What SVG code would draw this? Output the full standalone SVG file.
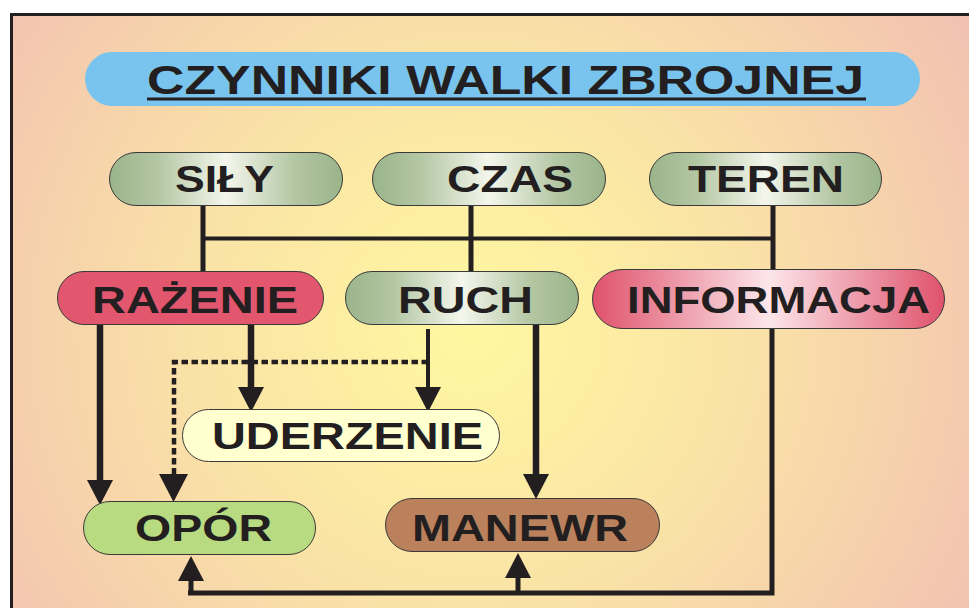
<svg xmlns="http://www.w3.org/2000/svg" width="969" height="608" viewBox="0 0 969 608">
<defs>
<radialGradient id="bg" gradientUnits="userSpaceOnUse" cx="470" cy="330" r="600">
<stop offset="0" stop-color="#fff8a0"/>
<stop offset="0.45" stop-color="#fae3a6"/>
<stop offset="1" stop-color="#f2c0b2"/>
</radialGradient>
<linearGradient id="green" x1="0" y1="0" x2="1" y2="0">
<stop offset="0" stop-color="#9bb48a"/>
<stop offset="0.2" stop-color="#b2c6a2"/>
<stop offset="0.5" stop-color="#f4f6ec"/>
<stop offset="0.8" stop-color="#b2c6a2"/>
<stop offset="1" stop-color="#9bb48a"/>
</linearGradient>
<linearGradient id="red" x1="0" y1="0" x2="1" y2="0">
<stop offset="0" stop-color="#df526c"/>
<stop offset="0.5" stop-color="#fce6ea"/>
<stop offset="1" stop-color="#df526c"/>
</linearGradient>
<marker id="ah" markerUnits="userSpaceOnUse" markerWidth="26" markerHeight="28" viewBox="0 0 25 28" refX="0" refY="14" orient="auto">
<path d="M0,1 L25,14 L0,27 Z" fill="#231f20"/>
</marker>
</defs>
<style>
.pill{stroke:#3a3a3a;stroke-width:1}
.lbl{font-family:"Liberation Sans",Arial,sans-serif;font-weight:bold;font-size:36px;fill:#231f20}
.ln{fill:none;stroke:#231f20;stroke-width:5}
.thk{stroke-width:6.5}
.thn{stroke-width:4}
.dot{fill:none;stroke:#231f20;stroke-width:4.5;stroke-dasharray:6.5 3.5}
</style>
<rect x="0" y="0" width="969" height="608" fill="#ffffff"/>
<rect x="11.5" y="14.5" width="975" height="610" fill="url(#bg)" stroke="#231f20" stroke-width="3"/>

<g id="title">
<rect x="85" y="52" width="835" height="54" rx="27" fill="#79c4ee"/>
<text class="lbl" x="147" y="94" font-size="40" style="font-size:40px" textLength="717" lengthAdjust="spacingAndGlyphs">CZYNNIKI WALKI ZBROJNEJ</text>
<rect x="147" y="97.5" width="719" height="3" fill="#231f20"/>
</g>

<g id="connectors">
<path class="ln" d="M203,206 V271"/>
<path class="ln thn" d="M203,238.5 H773"/>
<path class="ln" d="M471,206 V271"/>
<path class="ln" d="M773,206 V270"/>
<path class="ln thk" d="M100,325 V480" marker-end="url(#ah)"/>
<path class="ln thk" d="M251,325 V387" marker-end="url(#ah)"/>
<path class="ln thn" d="M428,329 V387" marker-end="url(#ah)"/>
<path class="dot" d="M428,362 H174 V474"/>
<path d="M159,474 L188,474 L173.5,502 Z" fill="#231f20"/>
<path class="ln thk" d="M536,325 V474" marker-end="url(#ah)"/>
<path class="ln" d="M772,328 V593 H188"/>
<path class="ln" d="M191,595 V581" marker-end="url(#ah)"/>
<path class="ln" d="M518,595 V578" marker-end="url(#ah)"/>
</g>

<g id="node-sily">
<rect class="pill" x="109.5" y="152.5" width="233" height="53" rx="26.5" fill="url(#green)"/>
<text class="lbl" x="175" y="192" textLength="99" lengthAdjust="spacingAndGlyphs">SIŁY</text>
</g>
<g id="node-czas">
<rect class="pill" x="372.5" y="152.5" width="233" height="53" rx="26.5" fill="url(#green)"/>
<text class="lbl" x="447" y="192" textLength="126" lengthAdjust="spacingAndGlyphs">CZAS</text>
</g>
<g id="node-teren">
<rect class="pill" x="649.5" y="152.5" width="232" height="53" rx="26.5" fill="url(#green)"/>
<text class="lbl" x="688" y="192" textLength="156" lengthAdjust="spacingAndGlyphs">TEREN</text>
</g>
<g id="node-razenie">
<rect class="pill" x="57.5" y="271.5" width="266" height="53" rx="26.5" fill="#e2566e"/>
<text class="lbl" x="92" y="313" textLength="206" lengthAdjust="spacingAndGlyphs">RAŻENIE</text>
</g>
<g id="node-ruch">
<rect class="pill" x="345.5" y="271.5" width="233" height="53" rx="26.5" fill="url(#green)"/>
<text class="lbl" x="398" y="313" textLength="135" lengthAdjust="spacingAndGlyphs">RUCH</text>
</g>
<g id="node-informacja">
<rect class="pill" x="592.5" y="269.5" width="352" height="59" rx="29.5" fill="url(#red)"/>
<text class="lbl" x="627" y="313" textLength="303" lengthAdjust="spacingAndGlyphs">INFORMACJA</text>
</g>
<g id="node-uderzenie">
<rect class="pill" x="182.5" y="409.5" width="317" height="52" rx="26" fill="#ffffd0"/>
<text class="lbl" x="212" y="449" textLength="271" lengthAdjust="spacingAndGlyphs">UDERZENIE</text>
</g>
<g id="node-opor">
<rect class="pill" x="83.5" y="501.5" width="232" height="53" rx="26.5" fill="#b8da80"/>
<text class="lbl" x="135" y="541" textLength="137" lengthAdjust="spacingAndGlyphs">OPÓR</text>
</g>
<g id="node-manewr">
<rect class="pill" x="385.5" y="498.5" width="274" height="53" rx="26.5" fill="#bb815c"/>
<text class="lbl" x="412" y="541" textLength="216" lengthAdjust="spacingAndGlyphs">MANEWR</text>
</g>
</svg>
